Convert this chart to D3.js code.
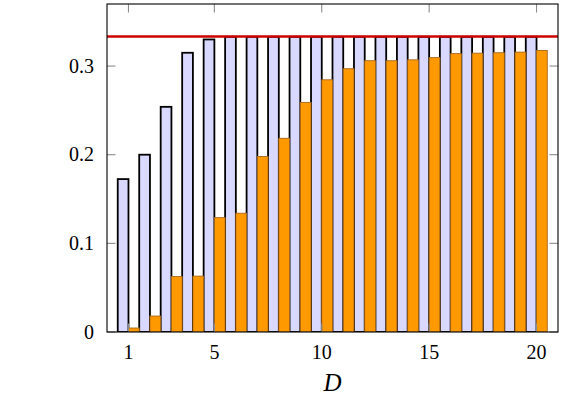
<!DOCTYPE html>
<html>
<head>
<meta charset="utf-8">
<script src="https://cdn.jsdelivr.net/npm/d3@7"></script>
<style>
  body { margin: 0; background: #fff; }
</style>
</head>
<body>
<svg id="chart" width="565" height="396"></svg>
<script>
// data
const dims = d3.range(1, 21);
const upperVals = [0.1725, 0.200, 0.254, 0.315, 0.330, 0.333, 0.333, 0.333, 0.333, 0.333,
                   0.333, 0.333, 0.333, 0.333, 0.333, 0.333, 0.333, 0.333, 0.333, 0.333];
const achievedVals = [0.0045, 0.018, 0.0625, 0.063, 0.129, 0.134, 0.198, 0.2185, 0.259, 0.2845,
                      0.297, 0.306, 0.306, 0.307, 0.3095, 0.314, 0.3145, 0.315, 0.3157, 0.3176];
const limitVal = 1 / 3;
const xTicks = [1, 5, 10, 15, 20];
const yTicks = [0, 0.1, 0.2, 0.3];

const serif = "'Liberation Serif', 'DejaVu Serif', serif";
const svg = d3.select("#chart");
const plotLeft = 107, plotRight = 558, plotTop = 4, plotBottom = 332;

const x = d3.scaleLinear().domain([0, 21]).range([plotLeft, plotRight]);
const y = d3.scaleLinear().domain([0, 0.37]).range([plotBottom, plotTop]);
const barW = x(0.5) - x(0);

svg.append("clipPath").attr("id", "plotClip")
    .append("rect").attr("x", plotLeft).attr("y", plotTop)
    .attr("width", plotRight - plotLeft).attr("height", plotBottom - plotTop);

const plot = svg.append("g").attr("clip-path", "url(#plotClip)");

plot.selectAll(".upper")
    .data(dims)
    .join("rect")
    .attr("class", "upper")
    .attr("x", d => x(d - 0.5))
    .attr("y", (d, i) => y(upperVals[i]))
    .attr("width", barW)
    .attr("height", (d, i) => y(0) - y(upperVals[i]))
    .attr("fill", "#d9d9ff")
    .attr("stroke", "#000")
    .attr("stroke-width", 1.8);

plot.selectAll(".achieved")
    .data(dims)
    .join("rect")
    .attr("class", "achieved")
    .attr("x", d => x(d))
    .attr("y", (d, i) => y(achievedVals[i]))
    .attr("width", barW)
    .attr("height", (d, i) => y(0) - y(achievedVals[i]))
    .attr("fill", "#ff9900")
    .attr("stroke", "#a8661a")
    .attr("stroke-width", 0.9);

plot.append("line")
    .attr("x1", plotLeft).attr("x2", plotRight)
    .attr("y1", y(limitVal)).attr("y2", y(limitVal))
    .attr("stroke", "#cc0000")
    .attr("stroke-width", 2.4);

// ticks on all four sides, pointing inward
const tickLen = 8.5;
const ticks = svg.append("g").attr("stroke", "#8c8c8c").attr("stroke-width", 1.1);
xTicks.forEach(t => {
    ticks.append("line").attr("x1", x(t)).attr("x2", x(t)).attr("y1", plotBottom).attr("y2", plotBottom - tickLen);
    ticks.append("line").attr("x1", x(t)).attr("x2", x(t)).attr("y1", plotTop).attr("y2", plotTop + tickLen);
});
yTicks.forEach(t => {
    ticks.append("line").attr("x1", plotLeft).attr("x2", plotLeft + tickLen).attr("y1", y(t)).attr("y2", y(t));
    ticks.append("line").attr("x1", plotRight).attr("x2", plotRight - tickLen).attr("y1", y(t)).attr("y2", y(t));
});

svg.append("rect")
    .attr("x", plotLeft).attr("y", plotTop)
    .attr("width", plotRight - plotLeft).attr("height", plotBottom - plotTop)
    .attr("fill", "none")
    .attr("stroke", "#000")
    .attr("stroke-width", 1.1);

svg.append("g").selectAll("text")
    .data(xTicks)
    .join("text")
    .attr("x", d => x(d))
    .attr("y", 359)
    .attr("text-anchor", "middle")
    .attr("font-family", serif)
    .attr("font-size", 20)
    .text(d => d);

svg.append("g").selectAll("text")
    .data(yTicks)
    .join("text")
    .attr("x", 94)
    .attr("y", d => y(d) + 6.5)
    .attr("text-anchor", "end")
    .attr("font-family", serif)
    .attr("font-size", 20)
    .text(d => d === 0 ? "0" : d3.format(".1f")(d));

svg.append("text")
    .attr("x", (plotLeft + plotRight) / 2)
    .attr("y", 391)
    .attr("text-anchor", "middle")
    .attr("font-family", serif)
    .attr("font-size", 25)
    .attr("font-style", "italic")
    .text("D");
</script>
</body>
</html>
